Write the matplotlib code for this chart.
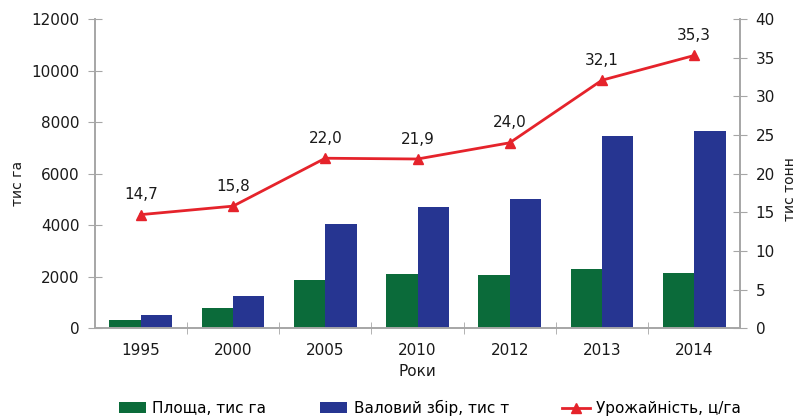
import matplotlib.pyplot as plt
import numpy as np

plt.rcParams['font.family'] = ['DejaVu Sans']

# data
years = ["1995", "2000", "2005", "2010", "2012", "2013", "2014"]
area = [330, 800, 1860, 2110, 2070, 2300, 2150]          # тис га
gross = [500, 1260, 4060, 4690, 5010, 7460, 7640]        # тис т
yield_ = [14.7, 15.8, 22.0, 21.9, 24.0, 32.1, 35.3]      # ц/га

green = "#0b6b3a"
blue = "#263591"
red = "#e5232b"
gray = "#a6a6a6"
txt = "#1a1a1a"

fig = plt.figure(figsize=(7.96, 4.17), dpi=100)
ax = fig.add_axes([0.119, 0.213, 0.811, 0.741])
ax2 = ax.twinx()

x = np.arange(len(years))
w = 0.34
b1 = ax.bar(x - w / 2, area, w, color=green, label="Площа, тис га", zorder=2)
b2 = ax.bar(x + w / 2, gross, w, color=blue, label="Валовий збір, тис т", zorder=2)
ln, = ax2.plot(x, yield_, color=red, lw=2, marker="^", ms=7,
               label="Урожайність, ц/га", zorder=3)
for xi, v in zip(x, yield_):
    ax2.annotate(f"{v:.1f}".replace(".", ","), (xi, v), xytext=(0, 9),
                 textcoords="offset points", ha="center", va="bottom",
                 fontsize=11, color=txt)

ax.set_xlim(-0.5, len(years) - 0.5)
ax.set_ylim(0, 12000)
ax2.set_ylim(0, 40)
ax.set_yticks(range(0, 12001, 2000))
ax2.set_yticks(range(0, 41, 5))

# category labels centred, tick marks between categories
ax.set_xticks(x)
ax.set_xticklabels(years, fontsize=11, color=txt)
ax.set_xticks(np.arange(0.5, len(years) - 0.5, 1), minor=True)
ax.tick_params(axis="x", which="major", length=0, pad=11)
ax.tick_params(axis="x", which="minor", length=8, direction="inout", color=gray)

ax.tick_params(axis="y", labelsize=11, labelcolor=txt, length=10,
               direction="inout", color=gray, pad=6)
ax2.tick_params(axis="y", labelsize=11, labelcolor=txt, length=10,
                direction="inout", color=gray, pad=6)

for a in (ax, ax2):
    a.spines["top"].set_visible(False)
    for s in ("left", "right", "bottom"):
        a.spines[s].set_color(gray)
        a.spines[s].set_linewidth(1.2)

ax.set_xlabel("Роки", fontsize=11, labelpad=4, color=txt)
ax.set_ylabel("тис га", fontsize=10, color=txt)
ax2.set_ylabel("тис тонн", fontsize=10, color=txt, rotation=90)
ax.yaxis.set_label_coords(-0.108, 0.47)
ax2.yaxis.set_label_coords(1.066, 0.45)
ax2.yaxis.label.set_va("top")

fig.legend(handles=[b1, b2, ln], loc="center", bbox_to_anchor=(0.540, 0.022),
           ncol=3, frameon=False, fontsize=11, columnspacing=3.5,
           handlelength=1.8, handletextpad=0.4)

fig.savefig("out.png", dpi=100)
